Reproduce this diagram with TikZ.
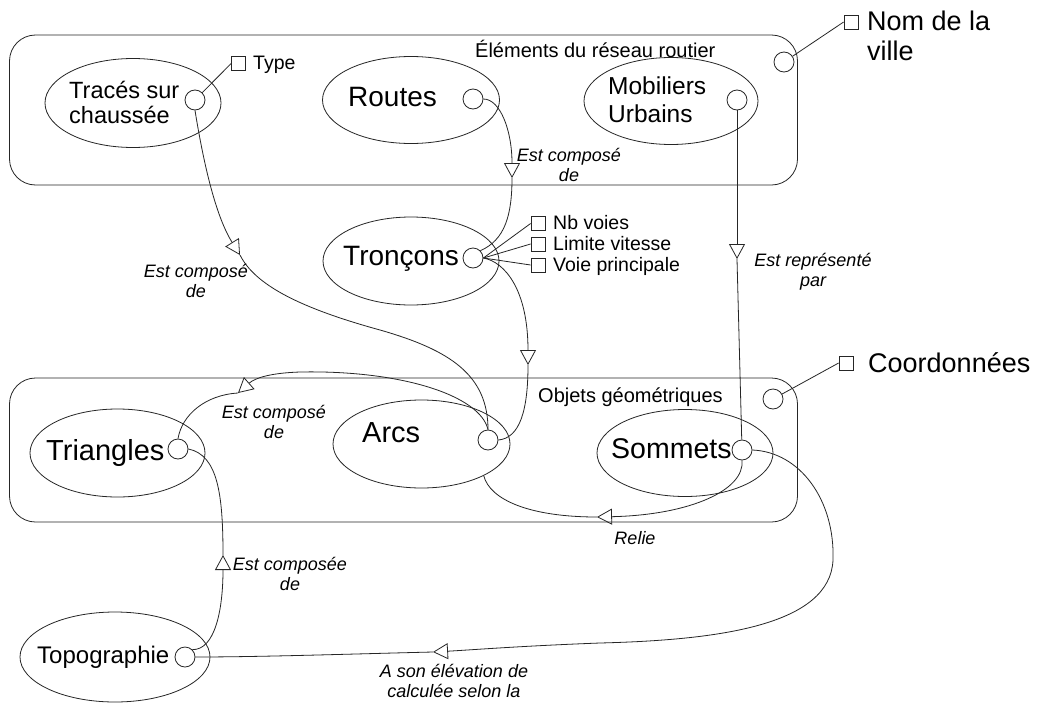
\documentclass[tikz,border=0pt]{standalone}
\usepackage{fontspec}
\setmainfont{Liberation Sans}
\usetikzlibrary{arrows.meta,shapes.geometric}
\tikzset{
  ln/.style={draw=black!85, line width=0.8pt},
  ent/.style={ln, ellipse, inner sep=0pt},
  port/.style={ln, circle, minimum size=20pt, inner sep=0pt},
  attrsq/.style={ln, rectangle, minimum size=14pt, inner sep=0pt},
  cont/.style={ln, rectangle, rounded corners=26pt, inner sep=0pt},
  lab/.style={font=\fontsize{18}{20}\selectfont\itshape, align=center, inner sep=0pt, anchor=base},
  ttl/.style={font=\fontsize{20}{24}\selectfont, inner sep=0pt, anchor=base west},
  atx/.style={font=\fontsize{19.5}{22}\selectfont, inner sep=0pt, anchor=base west},
  arr/.style={-{Triangle[open,length=15pt,width=16pt,line width=0.8pt]}},
}
\begin{document}
\begin{tikzpicture}[x=1pt,y=-1pt]
\useasboundingbox (0,0) rectangle (1038,704);
\fill[white] (0,0) rectangle (1038,704);

% containers
\node[cont, minimum width=788pt, minimum height=150pt] (reseauC) at (403.5,110) {};
\node[cont, minimum width=788pt, minimum height=144pt] (geoC) at (403.5,450) {};
\node[ttl] (reseauT) at (475,57) {Éléments du réseau routier};
\node[ttl] (geoT) at (538,402) {Objets géométriques};
\node[port] (reseauP) at (784,62) {};
\node[port] (geoP) at (773,399) {};
\node[attrsq] (nomS) at (851,22) {};
\node[font=\fontsize{27}{30}\selectfont, align=left, inner sep=0pt, anchor=base west] (nomT) at (867,60) {Nom de la\\ville};
\node[attrsq] (coordS) at (846,363) {};
\node[font=\fontsize{27}{30}\selectfont, inner sep=0pt, anchor=base west] (coordT) at (868,372) {Coordonnées};

% entities
\node[ent, minimum width=176pt, minimum height=89pt] (tracesE) at (133,103) {};
\node[font=\fontsize{23.5}{25}\selectfont, align=left, inner sep=0pt, anchor=base west] (tracesT) at (69,123) {Tracés sur\\chaussée};
\node[port] (tracesP) at (195,100) {};
\node[attrsq] (typeS) at (238.5,63.5) {};
\node[atx] (typeT) at (253,69) {Type};

\node[ent, minimum width=177pt, minimum height=87pt] (routesE) at (411,100) {};
\node[font=\fontsize{28}{30}\selectfont, inner sep=0pt, anchor=base west] (routesT) at (348,106) {Routes};
\node[port] (routesP) at (473,99) {};

\node[ent, minimum width=174pt, minimum height=87pt] (mobE) at (671,101) {};
\node[font=\fontsize{24.5}{28}\selectfont, align=left, inner sep=0pt, anchor=base west] (mobT) at (608,122) {Mobiliers\\Urbains};
\node[port] (mobP) at (737,100) {};

\node[ent, minimum width=176pt, minimum height=88pt] (tronE) at (411,261) {};
\node[font=\fontsize{28}{30}\selectfont, inner sep=0pt, anchor=base west] (tronT) at (343,265) {Tronçons};
\node[port] (tronP) at (473,258) {};
\node[attrsq] (nbS) at (538,223.5) {};
\node[attrsq] (limS) at (538,244) {};
\node[attrsq] (voieS) at (538,265) {};
\node[atx] (nbT) at (553,229) {Nb voies};
\node[atx] (limT) at (553,250) {Limite vitesse};
\node[atx] (voieT) at (553,271) {Voie principale};

\node[ent, minimum width=175pt, minimum height=88pt] (triE) at (117.5,453) {};
\node[font=\fontsize{29}{30}\selectfont, inner sep=0pt, anchor=base west] (triT) at (46,460) {Triangles};
\node[port] (triP) at (178,449) {};

\node[ent, minimum width=177pt, minimum height=88pt] (arcsE) at (421.5,444) {};
\node[font=\fontsize{29}{30}\selectfont, inner sep=0pt, anchor=base west] (arcsT) at (362,442) {Arcs};
\node[port] (arcsP) at (488,440) {};

\node[ent, minimum width=176pt, minimum height=87pt] (somE) at (685,453) {};
\node[font=\fontsize{28.5}{30}\selectfont, inner sep=0pt, anchor=base west] (somT) at (611,458) {Sommets};
\node[port] (somP) at (742,450) {};

\node[ent, minimum width=190pt, minimum height=90pt] (topoE) at (115,657) {};
\node[font=\fontsize{24}{26}\selectfont, inner sep=0pt, anchor=base west] (topoT) at (37,663) {Topographie};
\node[port] (topoP) at (185,657) {};

% arrow apex coordinates
\coordinate (a1) at (240,255);
\coordinate (a2) at (512,178);
\coordinate (a3) at (528,365);
\coordinate (a4) at (737,259);
\coordinate (a5) at (238,393);
\coordinate (a6) at (597,517);
\coordinate (a7) at (433,652);
\coordinate (a8) at (223,555);

% attribute links
\draw[ln] (reseauP) -- (nomS.west);
\draw[ln] (geoP) -- (coordS.west);
\draw[ln] (tracesP) -- (typeS.west);
\draw[ln] (tronP.east) -- (nbS.west);
\draw[ln] (tronP.east) -- (limS.west);
\draw[ln] (tronP.east) -- (voieS.west);

% C1 Tracés -> Arcs
\draw[ln,arr] (tracesP.south) .. controls (203,160) and (215,215) .. (a1);
\draw[ln] (a1) .. controls (255,285) and (300,308) .. (380,330) .. controls (450,350) and (488,375) .. (arcsP.north);
% C2 Routes -> Tronçons
\draw[ln,arr] (routesP.east) .. controls (500,99) and (512,130) .. (a2);
\draw[ln] (a2) .. controls (512,215) and (505,240) .. (tronP.north east);
% C3 Tronçons -> Arcs
\draw[ln,arr] (tronP.east) .. controls (505,262) and (528,290) .. (a3);
\draw[ln] (a3) .. controls (528,410) and (520,438) .. (arcsP.east);
% C4 Mobiliers -> Sommets
\draw[ln,arr] (mobP.south) -- (a4);
\draw[ln] (a4) -- (somP);
% C5 Arcs -> Triangles
\draw[ln,arr] (arcsP.north) .. controls (480,395) and (400,370) .. (300,372) .. controls (270,373) and (255,378) .. (a5);
\draw[ln] (a5) .. controls (205,395) and (182,415) .. (triP.north);
% C6 Relie
\draw[ln,arr] (somP.south) .. controls (745,490) and (690,515) .. (a6);
\draw[ln] (a6) .. controls (530,517) and (490,500) .. (arcsE.-27);
% C7 Sommets -> Topographie
\draw[ln,arr] (somP.east) .. controls (800,452) and (835,500) .. (833,560) .. controls (830,625) and (720,640) .. (600,643) .. controls (520,646) and (470,650) .. (a7);
\draw[ln] (a7) .. controls (350,654) and (260,657) .. (topoP.east);
% C8 Topographie -> Triangles
\draw[ln,arr] (topoP.north east) .. controls (215,650) and (223,610) .. (a8);
\draw[ln] (a8) .. controls (223,495) and (218,455) .. (triP.east);

% labels
\node[lab] (l1) at (196,297) {Est composé\\de};
\node[lab] (l2) at (569,181) {Est composé\\de};
\node[lab] (l3) at (813,286) {Est représenté\\par};
\node[lab] (l4) at (274,438) {Est composé\\de};
\node[lab] (l5) at (635,544) {Relie};
\node[lab] (l6) at (290,590) {Est composée\\de};
\node[lab] (l7) at (454,697) {A son élévation de\\calculée selon la};
\end{tikzpicture}
\end{document}
